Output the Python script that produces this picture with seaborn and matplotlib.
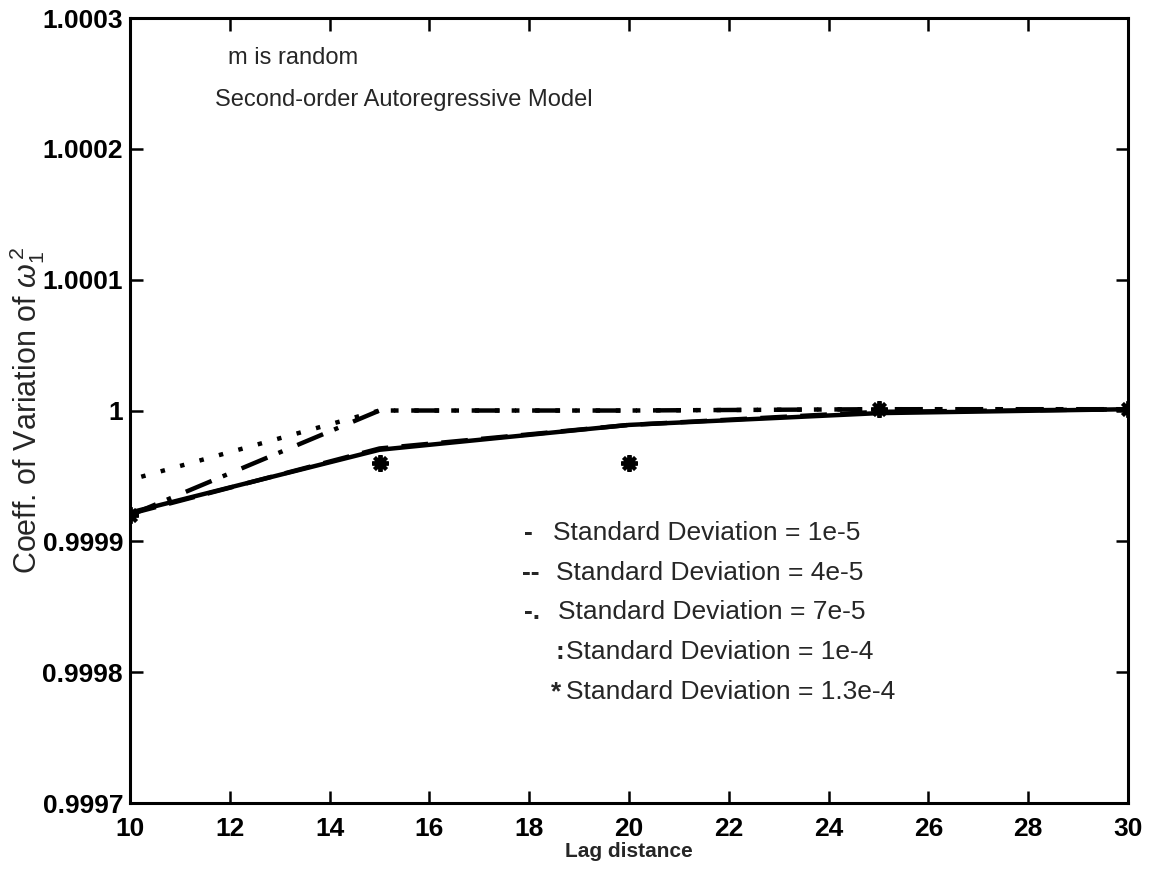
import numpy as np
import pandas as pd
import matplotlib
matplotlib.use("Agg")
import matplotlib.pyplot as plt
import seaborn as sns

# ---- data ----
lags = [10, 15, 20, 25, 30]
sd_1e5 = [0.999922, 0.999970, 0.999989, 0.999998, 1.000001]
sd_4e5 = [0.999921, 0.999971, 0.999989, 0.999999, 1.000001]
sd_7e5 = [0.999920, 1.000000, 1.000000, 1.000001, 1.000001]
sd_1e4 = [0.999947, 1.000000, 1.000000, 1.000001, 1.000001]
sd_13e4 = [0.999920, 0.999960, 0.999960, 1.000001, 1.000001]

x_ticks = [10, 12, 14, 16, 18, 20, 22, 24, 26, 28, 30]
y_ticks = [0.9997, 0.9998, 0.9999, 1.0, 1.0001, 1.0002, 1.0003]
y_tick_labels = ["0.9997", "0.9998", "0.9999", "1", "1.0001", "1.0002", "1.0003"]

legend_symbols = ["-", "--", "-.", ":", "*"]
legend_texts = ["Standard Deviation = 1e-5", "Standard Deviation = 4e-5",
                "Standard Deviation = 7e-5", "Standard Deviation = 1e-4",
                "Standard Deviation = 1.3e-4"]

sns.set_theme(style="white")
plt.rcParams['font.family'] = ['Liberation Sans', 'DejaVu Sans']
plt.rcParams['mathtext.fontset'] = 'custom'
plt.rcParams['mathtext.rm'] = 'Liberation Sans'
plt.rcParams['mathtext.it'] = 'Liberation Sans:italic'

DPI = 100
fig = plt.figure(figsize=(11.51, 8.80), dpi=DPI)
ax = fig.add_axes([0.113, 0.0875, 0.867, 0.892])
ax.set_xlim(10, 30)
ax.set_ylim(0.9997, 1.0003)

# dash patterns: align the dotted line's dots with the dash-dot line where they overlap
LW = 3.2
unit_px = LW * DPI / 72.0
dd_pattern = (6.3, 2.7, 1.0, 3.6)
dd_period = sum(dd_pattern)
dot_on = 1.0
dot_off = dd_period / 3.0 - dot_on
p_dd = ax.transData.transform(np.column_stack([lags[:2], sd_7e5[:2]]))
p_dt = ax.transData.transform(np.column_stack([lags[:2], sd_1e4[:2]]))
L_dd = np.hypot(*(p_dd[1] - p_dd[0])) / unit_px
L_dt = np.hypot(*(p_dt[1] - p_dt[0])) / unit_px
dot_offset = (L_dt - L_dd) % (dd_period / 3.0)

sns.lineplot(x=lags, y=sd_1e4, ax=ax, color="black", linewidth=LW,
             linestyle=(dot_offset, (dot_on, dot_off)))
sns.lineplot(x=lags, y=sd_4e5, ax=ax, color="black", linewidth=LW, linestyle=(0, (6, 3)))
sns.lineplot(x=lags, y=sd_1e5, ax=ax, color="black", linewidth=LW, linestyle="-")
sns.lineplot(x=lags, y=sd_7e5, ax=ax, color="black", linewidth=LW,
             linestyle=(0, dd_pattern))
sns.lineplot(x=lags, y=sd_13e4, ax=ax, color="black", linestyle="none",
             marker=(8, 2, 0), markersize=12, markeredgewidth=2.8,
             markeredgecolor="black", markerfacecolor="black")

ax.set_xlim(10, 30)
ax.set_ylim(0.9997, 1.0003)
ax.set_xticks(x_ticks)
ax.set_xticklabels([str(t) for t in x_ticks])
ax.set_yticks(y_ticks)
ax.set_yticklabels(y_tick_labels)

ax.tick_params(direction="in", length=9, width=1.8, top=True, right=True,
               bottom=True, left=True, labelsize=19, colors="black")
ax.tick_params(axis="x", pad=10)
ax.tick_params(axis="y", pad=5)
for lab in ax.get_xticklabels() + ax.get_yticklabels():
    lab.set_fontweight("bold")
for sp in ax.spines.values():
    sp.set_color("black")
    sp.set_linewidth(2.2)

ax.set_xlabel("Lag distance", fontsize=15, fontweight="bold", labelpad=1)
ax.set_ylabel(r"Coeff. of Variation of $\omega_1^{\,2}$", fontsize=22, labelpad=-3)

ax.text(0.098, 0.949, "m is random", transform=ax.transAxes, fontsize=17,
        va="center", ha="left")
ax.text(0.085, 0.896, "Second-order Autoregressive Model", transform=ax.transAxes,
        fontsize=17, va="center", ha="left")

sym_x = [0.395, 0.393, 0.395, 0.426, 0.422]
txt_x = [0.424, 0.427, 0.429, 0.437, 0.437]
row_y = [0.344, 0.293, 0.243, 0.192, 0.141]
for s, t, sx, tx, ry in zip(legend_symbols, legend_texts, sym_x, txt_x, row_y):
    ax.text(sx, ry, s, transform=ax.transAxes, fontsize=19, fontweight="bold",
            va="center", ha="left")
    ax.text(tx, ry, t, transform=ax.transAxes, fontsize=19, va="center", ha="left")

fig.savefig("out.png", dpi=DPI, facecolor="white")
